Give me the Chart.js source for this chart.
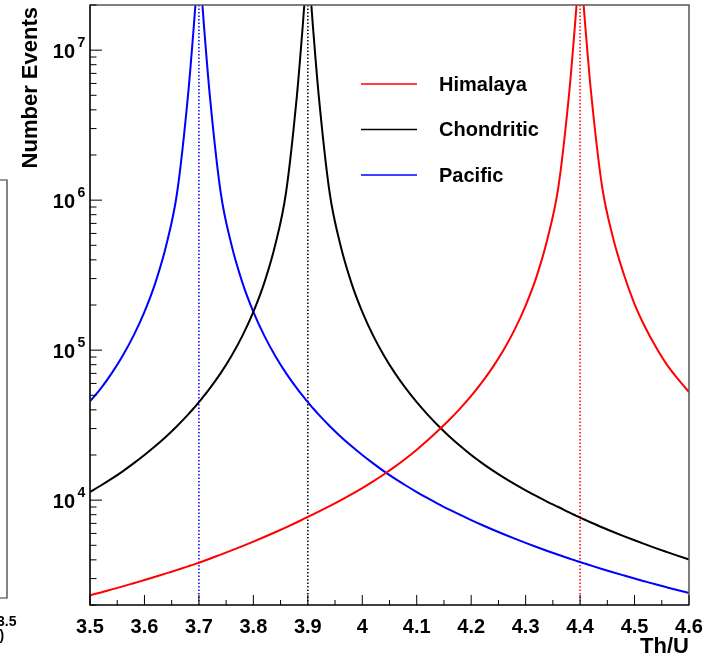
<!DOCTYPE html>
<html>
<head>
<meta charset="utf-8">
<script src="https://cdn.jsdelivr.net/npm/chart.js@4.4.1/dist/chart.umd.min.js"></script>
<style>
  html, body { margin: 0; padding: 0; background: #fff; }
  #wrap { width: 721px; height: 657px; }
</style>
</head>
<body>
<div id="wrap"><canvas id="chart" width="721" height="657"></canvas></div>
<script>
// Th/U values where the curves were sampled
const thU = [3.50,3.52,3.54,3.56,3.58,3.60,3.62,3.64,3.66,3.68,
  3.69,3.695,3.70,3.705,3.71,
  3.72,3.74,3.76,3.78,3.80,3.82,3.84,3.86,3.88,
  3.89,3.895,3.90,3.905,3.91,
  3.92,3.94,3.96,3.98,4.00,4.02,4.04,4.06,4.08,4.10,4.12,4.14,4.16,4.18,4.20,4.22,4.24,4.26,4.28,4.30,4.32,4.34,4.36,4.38,
  4.39,4.395,4.40,4.405,4.41,
  4.42,4.44,4.46,4.48,4.50,4.52,4.54,4.56,4.58,4.60]

const himalaya = [2322,2426,2541,2661,2794,2933,3087,3248,3427,3617,
  3718,3773,3827,3884,3942,
  4070,4334,4622,4940,5292,5680,6112,6589,7126,
  7419,7578,7728,7885,8044,
  8387,9126,9966,10929,12044,13346,14884,16722,18951,21700,25072,29260,34375,40920,49500,61160,77330,100980,137500,198000,309000,550000,1215000,5.2e6,
  1.38e7,2.3e7,3.2e7,2.3e7,1.38e7,
  5.3e6,1260000,570000,323000,203000,141000,103700,79400,64000,52500]

const chondritic = [11330,12520,13910,15570,17580,20000,22960,26600,31250,37200,
  40820,42830,45000,47340,49860,
  55600,70300,91800,125000,180000,281000,500000,1125000,5.0e6,
  1.35e7,2.3e7,3.2e7,2.3e7,1.35e7,
  5.0e6,1125000,500000,281000,180000,125000,91800,70300,55600,45000,37200,31250,26600,22960,20000,17670,15730,14120,12770,11610,10620,9750,9000,8280,
  7960,7810,7650,7510,7370,
  7100,6600,6160,5760,5400,5070,4770,4500,4250,4020]

const pacific = [45500,55600,70300,91800,125000,180000,281000,500000,1125000,5.0e6,
  1.35e7,2.3e7,3.2e7,2.3e7,1.35e7,
  5.0e6,1125000,500000,281000,180000,125000,91800,70300,55600,
  49860,47340,45000,42830,40820,
  37200,31250,26600,22960,20000,17580,15570,13910,12520,11330,10310,9420,8650,7965,7360,6826,6348,5922,5536,5188,4872,4585,4325,4086,
  3974,3919,3866,3815,3763,
  3665,3479,3308,3150,3002,2866,2738,2620,2509,2406]

const seriesNames = ["Himalaya", "Chondritic", "Pacific"]
const seriesColors = ["#ff0000", "#000000", "#0000ff"]
const bestFit = [4.4, 3.9, 3.7]   // dotted line of each series
const xTicks = [3.5,3.6,3.7,3.8,3.9,4.0,4.1,4.2,4.3,4.4,4.5,4.6]
const yDecades = [4, 5, 6, 7]
const xRange = [3.5, 4.6]
const yRange = [2000, 2e7]

const FONT = '"Liberation Sans", Arial, Helvetica, sans-serif'
const allSeries = [himalaya, chondritic, pacific]

const datasets = []
allSeries.forEach((vals, i) => {
    datasets.push({
        label: seriesNames[i],
        data: thU.map((x, j) => ({x: x, y: vals[j]})),
        borderColor: seriesColors[i],
        borderWidth: 2,
        showLine: true,
        pointRadius: 0,
        cubicInterpolationMode: "monotone",
        clip: 0
    })
})
bestFit.forEach((x, i) => {
    datasets.push({
        label: seriesNames[i] + " fit",
        data: [{x: x, y: yRange[0]}, {x: x, y: yRange[1]}],
        borderColor: seriesColors[i],
        borderWidth: 1.5,
        borderDash: [1.5, 2],
        showLine: true,
        pointRadius: 0,
        clip: 0
    })
})

// ROOT-like frame, inward ticks, labels and legend
const rootStyle = {
    id: "rootStyle",
    afterDraw(chart){
        const ctx = chart.ctx
        const a = chart.chartArea
        const xs = chart.scales.x, ys = chart.scales.y
        ctx.save()

        ctx.strokeStyle = "#555"
        ctx.lineWidth = 1.5
        ctx.strokeRect(a.left, a.top, a.right - a.left, a.bottom - a.top)
        ctx.strokeStyle = "#000"
        ctx.lineWidth = 1.2
        ctx.beginPath()
        ctx.moveTo(a.left, a.top)
        ctx.lineTo(a.left, a.bottom)
        ctx.lineTo(a.right, a.bottom)
        ctx.stroke()

        // x ticks
        ctx.lineWidth = 1
        ctx.beginPath()
        for(let i = 0; i < xTicks.length; i++){
            const px = xs.getPixelForValue(xTicks[i])
            ctx.moveTo(px, a.bottom)
            ctx.lineTo(px, a.bottom - 10)
            if(i < xTicks.length - 1){
                const pm = xs.getPixelForValue((xTicks[i] + xTicks[i+1]) / 2)
                ctx.moveTo(pm, a.bottom)
                ctx.lineTo(pm, a.bottom - 5)
            }
        }
        // y ticks
        for(let e = 3; e <= 7; e++){
            for(let k = 1; k <= 9; k++){
                const v = k * Math.pow(10, e)
                if(v < yRange[0] || v > yRange[1]) continue
                const py = ys.getPixelForValue(v)
                ctx.moveTo(a.left, py)
                ctx.lineTo(a.left + (k == 1 ? 12 : 6.5), py)
            }
        }
        ctx.stroke()

        ctx.fillStyle = "#000"
        ctx.font = `bold 20px ${FONT}`
        ctx.textAlign = "center"
        ctx.textBaseline = "alphabetic"
        for(const v of xTicks){
            ctx.fillText(String(Number(v.toFixed(1))), xs.getPixelForValue(v), 633)
        }
        for(const e of yDecades){
            const py = ys.getPixelForValue(Math.pow(10, e))
            ctx.font = `bold 20px ${FONT}`
            ctx.textAlign = "right"
            ctx.textBaseline = "middle"
            ctx.fillText("10", 75, py + 2)
            ctx.font = `bold 14px ${FONT}`
            ctx.textAlign = "left"
            ctx.textBaseline = "alphabetic"
            ctx.fillText(String(e), 77.5, py - 3)
        }

        // axis titles
        ctx.font = `bold 22px ${FONT}`
        ctx.textAlign = "right"
        ctx.textBaseline = "alphabetic"
        ctx.fillText("Th/U", a.right, 653)
        ctx.save()
        ctx.translate(36.5, 7)
        ctx.rotate(-Math.PI / 2)
        ctx.fillText("Number Events", 0, 0)
        ctx.restore()

        // legend
        ctx.font = `bold 20px ${FONT}`
        ctx.textAlign = "left"
        ctx.textBaseline = "middle"
        ctx.lineWidth = 1.5
        for(let i = 0; i < seriesNames.length; i++){
            const ly = 84 + i * 45.5
            ctx.strokeStyle = seriesColors[i]
            ctx.beginPath()
            ctx.moveTo(361, ly)
            ctx.lineTo(417, ly)
            ctx.stroke()
            ctx.fillText(seriesNames[i], 439, ly + 1)
        }

        // edge of the neighbouring pad on the left
        ctx.strokeStyle = "#333"
        ctx.lineWidth = 1.2
        ctx.beginPath()
        ctx.moveTo(0, 180)
        ctx.lineTo(7, 180)
        ctx.lineTo(7, 598)
        ctx.lineTo(0, 598)
        ctx.stroke()
        ctx.font = `bold 14px ${FONT}`
        ctx.textAlign = "right"
        ctx.textBaseline = "alphabetic"
        ctx.fillText("3.5", 16.5, 626)
        ctx.textAlign = "left"
        ctx.fillText(")", -0.5, 640)
        ctx.restore()
    }
}

new Chart(document.getElementById("chart"), {
    type: "scatter",
    data: { datasets: datasets },
    options: {
        responsive: false,
        animation: false,
        devicePixelRatio: 1,
        layout: { padding: { left: 90, top: 5, right: 32, bottom: 52 } },
        scales: {
            x: { type: "linear", min: xRange[0], max: xRange[1], display: false },
            y: { type: "logarithmic", min: yRange[0], max: yRange[1], display: false }
        },
        plugins: { legend: { display: false }, tooltip: { enabled: false } }
    },
    plugins: [rootStyle]
})
</script>
</body>
</html>
